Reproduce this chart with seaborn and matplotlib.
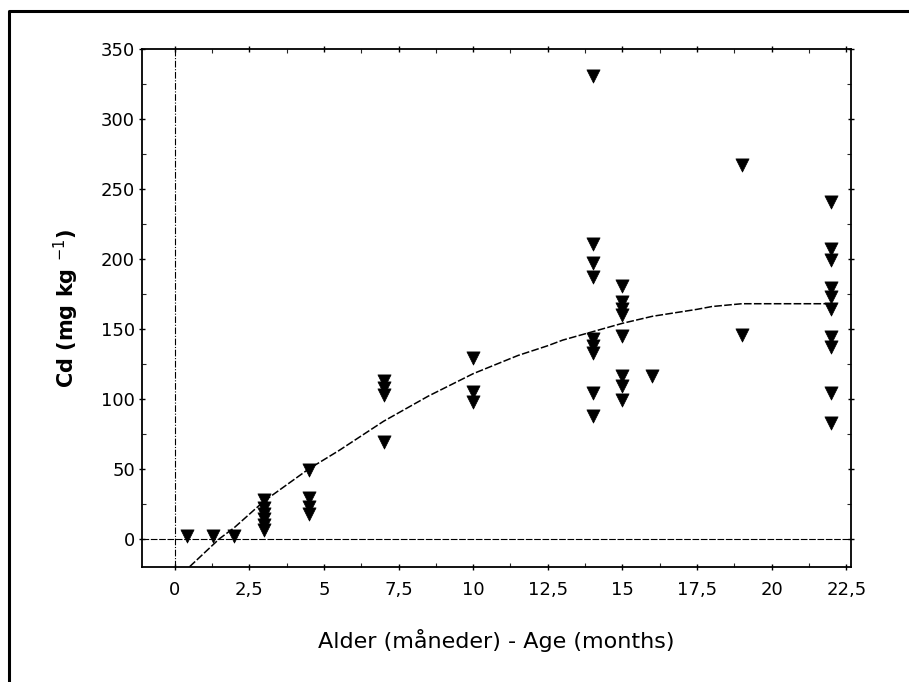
import numpy as np
import pandas as pd
import seaborn as sns
import matplotlib.pyplot as plt
from matplotlib.lines import Line2D
from matplotlib.ticker import MultipleLocator, FuncFormatter

age = [0.4, 1.3, 2.0,
       3, 3, 3, 3, 3, 3,
       4.5, 4.5, 4.5, 4.5,
       7, 7, 7, 7,
       10, 10, 10,
       14, 14, 14, 14, 14, 14, 14, 14, 14,
       15, 15, 15, 15, 15, 15, 15, 15,
       16,
       19, 19,
       22, 22, 22, 22, 22, 22, 22, 22, 22, 22]
cd = [2, 2, 2,
      28, 22, 18, 14, 10, 6,
      49, 29, 23, 18,
      113, 108, 103, 69,
      129, 105, 98,
      331, 211, 197, 187, 143, 138, 133, 104, 88,
      181, 169, 164, 160, 145, 116, 109, 99,
      116,
      267, 146,
      241, 207, 199, 179, 173, 164, 144, 137, 104, 83]

# fitted curve as drawn in the figure
fit_age = [0.5, 1.5, 2, 3, 4.5, 5.5, 7, 8.5, 10, 11.5, 12.5, 13, 14, 15,
           16, 17.5, 18, 19, 20, 22]
fit_cd = [-20, 0, 8, 27, 50, 63, 84, 102, 118, 131, 138, 142, 148, 154,
          159, 164, 166, 168, 168, 168]

df = pd.DataFrame({"age": age, "cd": cd})
fit = pd.DataFrame({"age": fit_age, "cd": fit_cd})

sns.set_theme(style="ticks")
plt.rcParams['font.family'] = ['DejaVu Sans']

fig = plt.figure(figsize=(9.09, 6.82), dpi=100)
ax = fig.add_axes([0.156, 0.169, 0.78, 0.759])

ax.axhline(0, color="black", lw=0.8, ls=(0, (6, 1.5)), zorder=1)
ax.axvline(0, color="black", lw=0.8, ls=(0, (6, 1.5, 1, 1.5)), zorder=1)

sns.lineplot(data=fit, x="age", y="cd", ax=ax, color="black", lw=1.1,
             linestyle=(0, (5, 1.5)), zorder=2)
sns.scatterplot(data=df, x="age", y="cd", ax=ax, marker="v", s=90,
                color="black", edgecolor="black", linewidth=0.5, zorder=3)

ax.set_xlim(-1.1, 22.65)
ax.set_ylim(-20, 350)
ax.xaxis.set_major_locator(MultipleLocator(2.5))
ax.xaxis.set_minor_locator(MultipleLocator(1.25))
ax.yaxis.set_major_locator(MultipleLocator(50))
ax.yaxis.set_minor_locator(MultipleLocator(25))
ax.xaxis.set_major_formatter(FuncFormatter(lambda v, p: f"{v:g}".replace(".", ",")))
ax.set_yticks([0, 50, 100, 150, 200, 250, 300, 350])

ax.tick_params(axis="both", which="major", length=4, width=1, labelsize=13,
               colors="black", top=True, right=True, direction="inout")
ax.tick_params(axis="both", which="minor", length=3, width=0.8,
               top=True, right=True, direction="in")
ax.tick_params(axis="x", pad=8)
ax.tick_params(axis="y", pad=3)
for s in ax.spines.values():
    s.set_linewidth(1.3)
    s.set_color("black")

ax.set_xlabel("Alder (måneder) - Age (months)", fontsize=16, labelpad=22,
              color="black")
ax.set_ylabel("Cd (mg kg $^{-1}$)", fontsize=15, fontweight="bold",
              labelpad=14, color="black")

# scan border (left and top edge)
fig.add_artist(Line2D([9 / 909, 9 / 909, 1], [0, 1 - 11 / 682, 1 - 11 / 682],
                      transform=fig.transFigure, color="black", lw=2.2))

fig.savefig("out.png", dpi=100, facecolor="white")
